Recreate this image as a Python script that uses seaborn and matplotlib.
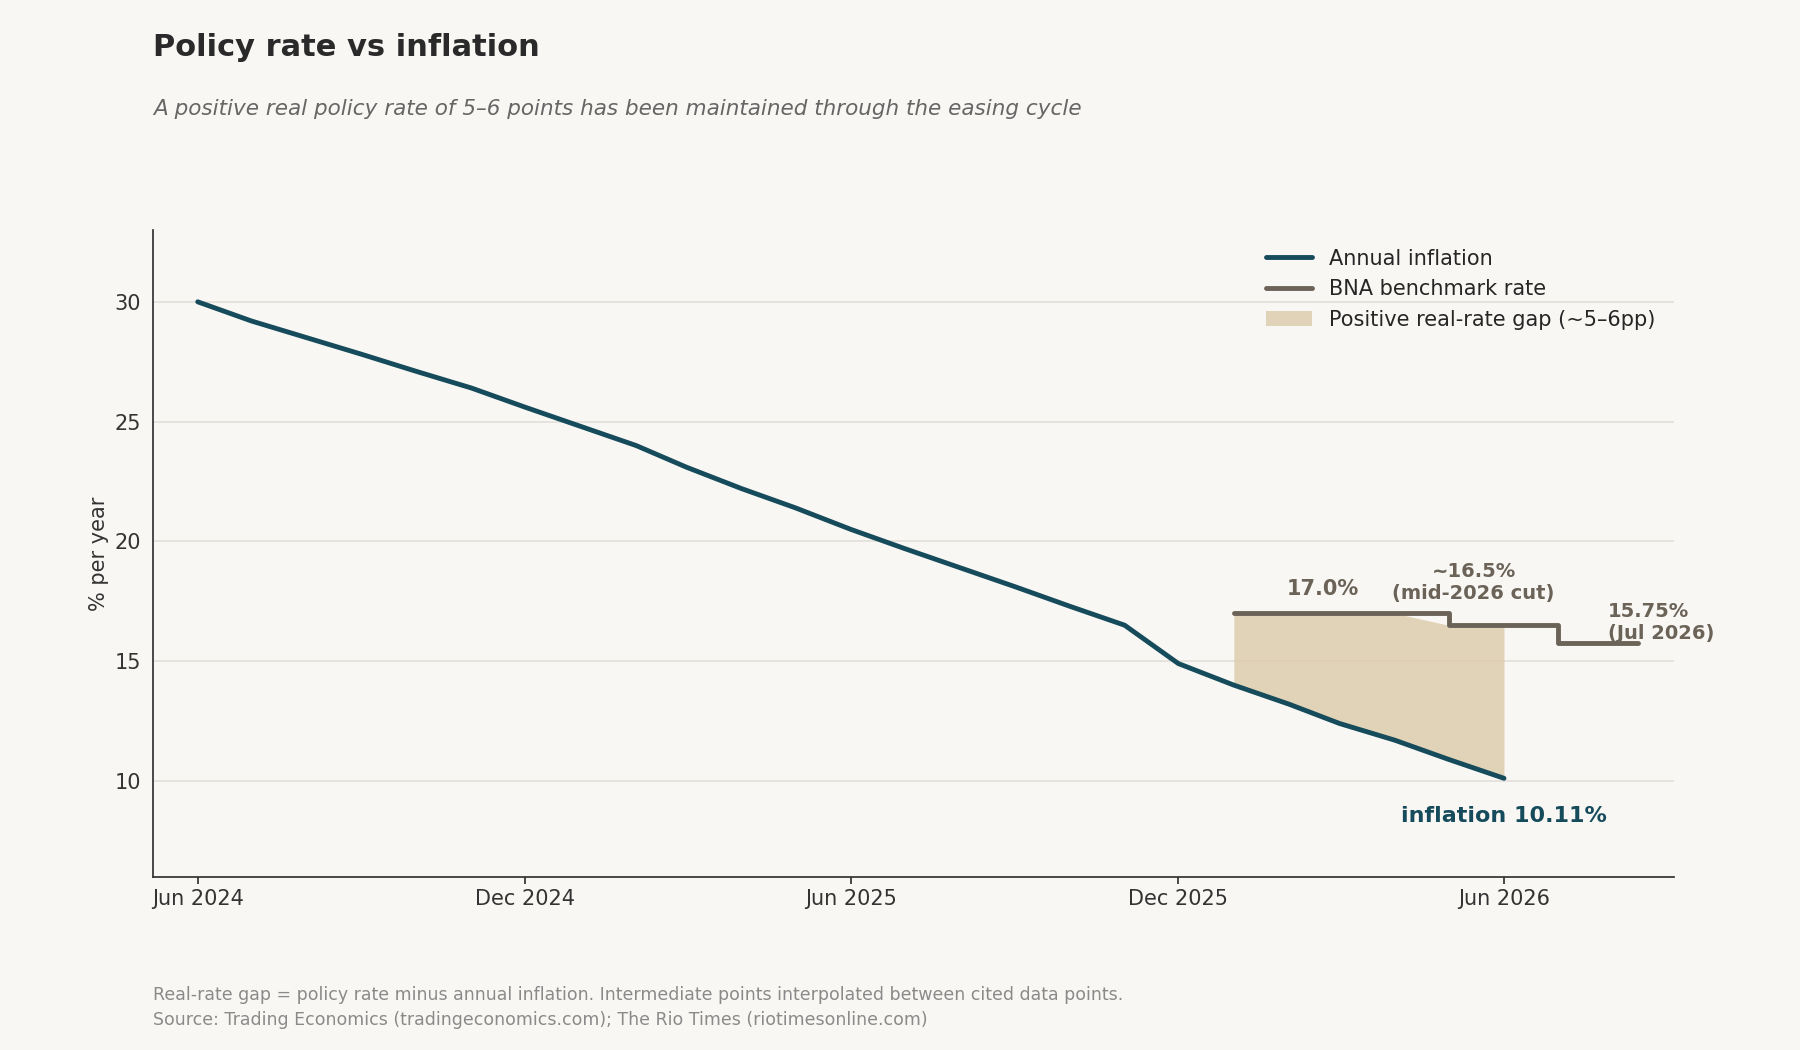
import matplotlib
matplotlib.use("Agg")
import matplotlib.pyplot as plt
import matplotlib.dates as mdates
import seaborn as sns
import pandas as pd
import numpy as np

infl_dates = pd.date_range("2024-06-01", "2026-06-01", freq="MS")
infl_values = [30.0, 29.2, 28.45, 27.7, 26.95, 26.2, 25.5, 24.8, 24.1, 23.4, 22.7, 21.95, 21.2,
               20.45, 19.7, 18.95, 18.2, 17.45, 16.7, 15.95, 15.2, 14.45, 13.7, 12.95, 12.2]
# override with values
infl_values = [30.0, 29.2, 28.5, 27.8, 27.1, 26.4, 25.6, 24.8, 24.0, 23.1, 22.2, 21.4, 20.5,
               19.7, 18.9, 18.1, 17.3, 16.5, 15.7, 14.9, 14.0, 13.2, 12.4, 11.7, 10.11]
infl_values[-2] = 10.9
infl_values[-3] = 11.7
infl_values[-4] = 12.4
infl_values[-5] = 13.2
infl_values[-6] = 14.0
infl_values[-7] = 14.9

policy_dates = pd.to_datetime(["2026-01-01", "2026-05-01", "2026-07-01", "2026-08-15"])
policy_values = [17.0, 16.5, 15.75, 15.75]

gap_dates = pd.date_range("2026-01-01", "2026-06-01", freq="MS")
gap_policy = [17.0, 17.0, 17.0, 17.0, 16.5, 16.5]

BG = "#f9f7f4"
C_INF = "#164b5c"
C_POL = "#6b6358"
C_GAP = "#dccbaa"

sns.set_theme(style="white")
plt.rcParams["font.family"] = ["DejaVu Sans"]

fig = plt.figure(figsize=(18, 10.5), dpi=100, facecolor=BG)
ax = fig.add_axes([0.085, 0.165, 0.845, 0.616], facecolor=BG)

df_inf = pd.DataFrame({"date": infl_dates, "value": infl_values})
sns.lineplot(data=df_inf, x="date", y="value", ax=ax, color=C_INF, lw=3.5, label="Annual inflation")
ax.step(policy_dates, policy_values, where="post", color=C_POL, lw=3.5, label="BNA benchmark rate")
gap_inf = infl_values[-len(gap_dates):]
ax.fill_between(gap_dates, gap_inf, gap_policy, color=C_GAP, alpha=0.8, lw=0,
                label="Positive real-rate gap (~5–6pp)")

ax.set_ylim(6, 33)
ax.set_xlim(pd.Timestamp("2024-05-07"), pd.Timestamp("2026-09-04"))
ax.set_yticks([10, 15, 20, 25, 30])
ax.set_xticks(pd.to_datetime(["2024-06-01", "2024-12-01", "2025-06-01", "2025-12-01", "2026-06-01"]))
ax.xaxis.set_major_formatter(mdates.DateFormatter("%b %Y"))
ax.grid(axis="y", color="#e3e0db", lw=1.2)
for s in ["top", "right"]:
    ax.spines[s].set_visible(False)
for s in ["left", "bottom"]:
    ax.spines[s].set_color("#333333")
ax.tick_params(axis="both", labelsize=15, colors="#333333", length=5, left=False, bottom=True)
ax.tick_params(axis="x", pad=4)
ax.set_xlabel("")
ax.set_ylabel("% per year", fontsize=15, color="#333333")

leg = ax.legend(loc="upper right", frameon=False, fontsize=15, handlelength=2.2)

ax.annotate("17.0%", (pd.Timestamp("2026-02-20"), 17.0), xytext=(0, 10), textcoords="offset points",
            ha="center", va="bottom", fontsize=15, fontweight="bold", color=C_POL)
ax.annotate("~16.5%\n(mid-2026 cut)", (pd.Timestamp("2026-05-15"), 16.5), xytext=(0, 16), textcoords="offset points",
            ha="center", va="bottom", fontsize=14, fontweight="bold", color=C_POL)
ax.annotate("15.75%\n(Jul 2026)", (pd.Timestamp("2026-07-29"), 15.75), xytext=(0, 0), textcoords="offset points",
            ha="left", va="bottom", fontsize=14, fontweight="bold", color=C_POL)
ax.annotate("inflation 10.11%", (pd.Timestamp("2026-06-01"), 10.11), xytext=(0, -20), textcoords="offset points",
            ha="center", va="top", fontsize=16, fontweight="bold", color=C_INF)

fig.text(0.085, 0.955, "Policy rate vs inflation", fontsize=22, fontweight="bold", color="#2a2a2a", va="center")
fig.text(0.085, 0.896, "A positive real policy rate of 5–6 points has been maintained through the easing cycle",
         fontsize=15.5, style="italic", color="#666666", va="center")
fig.text(0.085, 0.052, "Real-rate gap = policy rate minus annual inflation. Intermediate points interpolated between cited data points.",
         fontsize=12.5, color="#8a8a8a", va="center")
fig.text(0.085, 0.029, "Source: Trading Economics (tradingeconomics.com); The Rio Times (riotimesonline.com)",
         fontsize=12.5, color="#8a8a8a", va="center")

fig.savefig("out.png", dpi=100, facecolor=BG)
